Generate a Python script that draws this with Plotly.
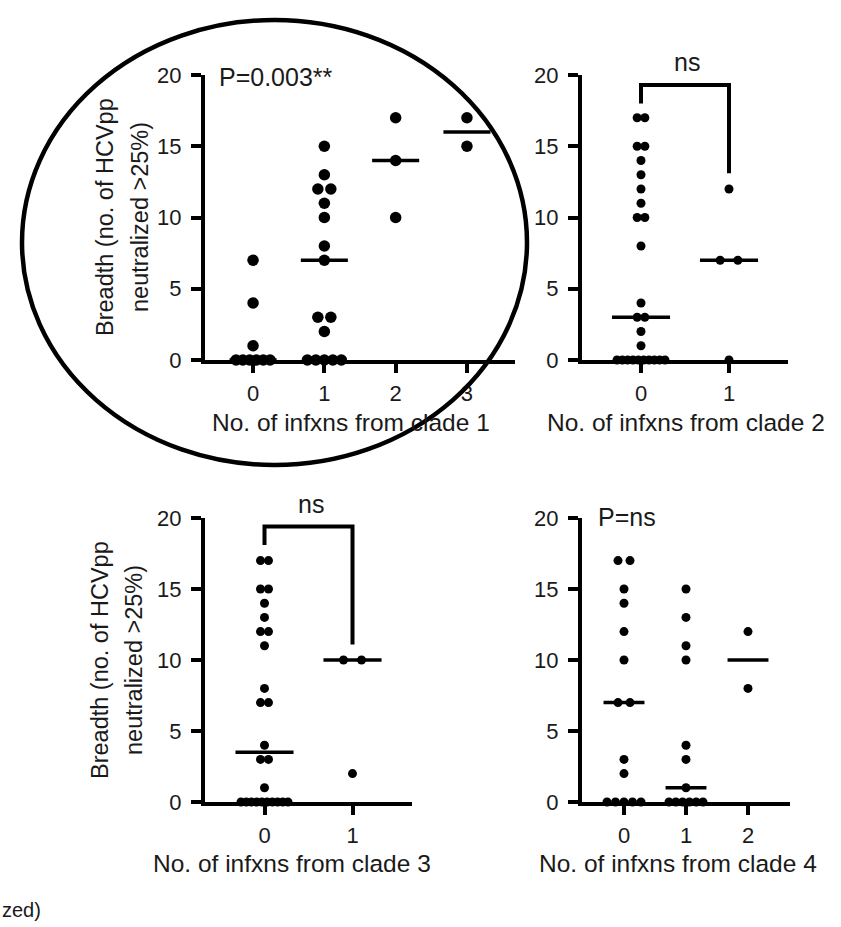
import plotly.graph_objects as go
from collections import Counter

# ---------------- data ----------------
clade1_categories = ["0", "1", "2", "3"]
clade1_values = [
    [0, 0, 0, 0, 0, 0, 1, 4, 7],
    [0, 0, 0, 0, 0, 2, 3, 3, 7, 8, 10, 11, 12, 12, 13, 15],
    [10, 14, 17],
    [15, 17],
]
clade1_medians = [0, 7, 14, 16]

clade2_categories = ["0", "1"]
clade2_values = [
    [0, 0, 0, 0, 0, 0, 0, 0, 0, 0, 1, 2, 3, 3, 4, 8, 10, 10, 11, 12, 13, 14, 15, 15, 17, 17],
    [0, 7, 7, 12],
]
clade2_medians = [3, 7]

clade3_categories = ["0", "1"]
clade3_values = [
    [0, 0, 0, 0, 0, 0, 0, 0, 0, 0, 1, 3, 3, 4, 7, 7, 8, 11, 12, 12, 13, 14, 15, 15, 17, 17],
    [2, 10, 10],
]
clade3_medians = [3.5, 10]

clade4_categories = ["0", "1", "2"]
clade4_values = [
    [0, 0, 0, 0, 0, 2, 3, 7, 7, 10, 12, 14, 15, 17, 17],
    [0, 0, 0, 0, 0, 0, 1, 3, 4, 10, 11, 13, 15],
    [8, 12],
]
clade4_medians = [7, 1, 10]

y_ticks = [0, 5, 10, 15, 20]
x_titles = ["No. of infxns from clade 1", "No. of infxns from clade 2",
            "No. of infxns from clade 3", "No. of infxns from clade 4"]
p_labels = ["P=0.003**", None, None, "P=ns"]
bracket_labels = [None, "ns", "ns", None]
# bracket: (top, left-leg bottom, right-leg bottom) in data units
brackets = [None, (19.3, 18.0, 13.1), (19.4, 18.1, 11.1), None]

# ---------------- layout / style ----------------
W, H = 841, 927
FONT = "Liberation Sans, Arial, sans-serif"
TXT = "#1a1a1a"

panels = [
    dict(cats=clade1_categories, vals=clade1_values, meds=clade1_medians,
         px=(205, 515), py=(75, 360), cat_px=71.3, pair_px=[13, 13, 13, 13], span_px=34, msize=11.5),
    dict(cats=clade2_categories, vals=clade2_values, meds=clade2_medians,
         px=(582, 788), py=(75, 360), cat_px=88, pair_px=[7.7, 17.7], span_px=48, msize=9),
    dict(cats=clade3_categories, vals=clade3_values, meds=clade3_medians,
         px=(205, 412), py=(518, 802), cat_px=88, pair_px=[8, 18], span_px=47, msize=9),
    dict(cats=clade4_categories, vals=clade4_values, meds=clade4_medians,
         px=(582, 790), py=(518, 802), cat_px=62, pair_px=[12, 12, 12], span_px=34, msize=9),
]
xtitle_pos = [(351, 422), (686, 422), (292, 863), (678, 863)]
ytitle_pos = [((105, 140), 217), None, ((100, 134), 660), None]
ptext_pos = [(217, 77), None, None, (596, 517)]
ns_pos = [None, (687, 62), (311, 504), None]


def fx(p):
    return p / W


def fy(p):
    return 1 - p / H


def swarm(values, pair_px, span_px, cat_px):
    counts = Counter(values)
    seen = Counter()
    offs = []
    for v in values:
        k = counts[v]
        j = seen[v]
        seen[v] += 1
        if k == 1:
            offs.append(0.0)
        else:
            s = min(pair_px, span_px / (k - 1))
            offs.append((j - (k - 1) / 2) * s / cat_px)
    return offs


fig = go.Figure()
annotations = []
shapes = []

for i, p in enumerate(panels):
    ax = "" if i == 0 else str(i + 1)
    xref, yref = "x" + ax, "y" + ax
    ncat = len(p["cats"])
    left_pad = ((p["px"][1] - p["px"][0]) - (ncat - 1) * p["cat_px"]) / 2 / p["cat_px"]
    xr = [-left_pad, ncat - 1 + left_pad]

    for g, vals in enumerate(p["vals"]):
        offs = swarm(vals, p["pair_px"][g], p["span_px"], p["cat_px"])
        fig.add_trace(go.Scatter(
            x=[g + o for o in offs], y=vals, mode="markers",
            marker=dict(size=p["msize"], color="black", line=dict(width=0)),
            xaxis=xref, yaxis=yref, cliponaxis=False, showlegend=False,
            hoverinfo="skip"))
        m = p["meds"][g]
        fig.add_trace(go.Scatter(
            x=[g - 0.33, g + 0.33], y=[m, m], mode="lines",
            line=dict(color="black", width=3.5),
            xaxis=xref, yaxis=yref, cliponaxis=False, showlegend=False,
            hoverinfo="skip"))

    axis_common = dict(showline=True, linecolor="black", linewidth=4,
                       ticks="outside", tickwidth=3.5, tickcolor="black",
                       showgrid=False, zeroline=False, automargin=False,
                       tickfont=dict(family=FONT, size=22, color=TXT))
    fig.update_layout(**{
        "xaxis" + ax: dict(domain=[fx(p["px"][0]), fx(p["px"][1])], range=xr,
                           tickmode="array", tickvals=list(range(ncat)), ticktext=p["cats"],
                           anchor=yref, ticklen=9, ticklabelstandoff=2, **axis_common),
        "yaxis" + ax: dict(domain=[fy(p["py"][1]), fy(p["py"][0])], range=[0, 20],
                           tickmode="array", tickvals=y_ticks,
                           ticktext=[str(t) for t in y_ticks],
                           anchor=xref, ticklen=10, ticklabelstandoff=5, **axis_common),
    })

    tx, ty = xtitle_pos[i]
    annotations.append(dict(x=fx(tx), y=fy(ty), xref="paper", yref="paper",
                            text=x_titles[i], showarrow=False, xanchor="center", yanchor="middle",
                            font=dict(family=FONT, size=24.5, color=TXT)))
    if ytitle_pos[i]:
        (l1, l2), cy = ytitle_pos[i]
        for lx, t in ((l1, "Breadth (no. of HCVpp"), (l2, "neutralized >25%)")):
            annotations.append(dict(x=fx(lx), y=fy(cy), xref="paper", yref="paper",
                                    text=t, showarrow=False, textangle=-90,
                                    xanchor="center", yanchor="middle",
                                    font=dict(family=FONT, size=23.5, color=TXT)))
    if p_labels[i]:
        px_, py_ = ptext_pos[i]
        annotations.append(dict(x=fx(px_), y=fy(py_), xref="paper", yref="paper",
                                text=p_labels[i], showarrow=False, xanchor="left", yanchor="middle",
                                font=dict(family=FONT, size=25, color=TXT)))
    if bracket_labels[i]:
        top, lb, rb = brackets[i]
        shapes.append(dict(type="path", xref=xref, yref=yref,
                           path=f"M 0 {lb} L 0 {top} L 1 {top} L 1 {rb}",
                           line=dict(color="black", width=4)))
        nx, ny = ns_pos[i]
        annotations.append(dict(x=fx(nx), y=fy(ny), xref="paper", yref="paper",
                                text=bracket_labels[i], showarrow=False,
                                xanchor="center", yanchor="middle",
                                font=dict(family=FONT, size=25, color=TXT)))

# cut-off text at bottom-left
annotations.append(dict(x=0, y=fy(910), xref="paper", yref="paper", text="zed)",
                        showarrow=False, xanchor="left", yanchor="middle",
                        font=dict(family=FONT, size=20, color=TXT)))

# hand-drawn ellipse around first panel
shapes.append(dict(type="circle", xref="paper", yref="paper",
                   x0=fx(22), x1=fx(527), y0=fy(465), y1=fy(20),
                   line=dict(color="black", width=4.5), layer="above"))

fig.update_layout(width=W, height=H, margin=dict(l=0, r=0, t=0, b=0),
                  paper_bgcolor="white", plot_bgcolor="white",
                  annotations=annotations, shapes=shapes, showlegend=False)

fig.write_html("out.html", config={"displayModeBar": False},
               post_script="document.body.style.margin='0';document.body.style.overflow='hidden';")
